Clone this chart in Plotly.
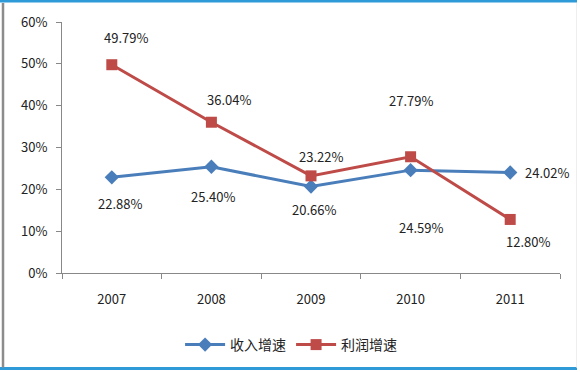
import plotly.graph_objects as go

years = ["2007", "2008", "2009", "2010", "2011"]
revenue = [22.88, 25.40, 20.66, 24.59, 24.02]
profit = [49.79, 36.04, 23.22, 27.79, 12.80]
names = ["收入增速", "利润增速"]
y_ticks = [0, 10, 20, 30, 40, 50, 60]

# label offsets (pixels) for each data label
rev_off = [(8, 26), (2, 30), (3, 23), (10, 57), (37, 0)]
pro_off = [(14, -27), (18, -23), (10, -19), (0, -56), (18, 22)]

BLUE = "#4A7EBB"
RED = "#BE4B48"
FONT = "Noto Sans CJK SC, Open Sans, sans-serif"

fig = go.Figure()
fig.add_trace(go.Scatter(x=years, y=revenue, name=names[0], mode="lines+markers",
                         line=dict(color=BLUE, width=3),
                         marker=dict(symbol="diamond", size=11, color=BLUE)))
fig.add_trace(go.Scatter(x=years, y=profit, name=names[1], mode="lines+markers",
                         line=dict(color=RED, width=3),
                         marker=dict(symbol="square", size=11, color=RED)))

for vals, offs in ((revenue, rev_off), (profit, pro_off)):
    for i, (v, (dx, dy)) in enumerate(zip(vals, offs)):
        fig.add_annotation(x=i, y=v, text=f"{v:.2f}%", showarrow=False,
                           xshift=dx, yshift=-dy,
                           font=dict(size=13, color="#222222", family=FONT))

L, T, W, H = 62, 22, 498, 252
def px(xp): return (xp - L) / W
def py(yp): return (T + H - yp) / H

frame = [
    (px(0), py(1), px(577), py(1), "#2E9AD8", 3),
    (px(0), py(370), px(577), py(370), "#2E9AD8", 3),
    (px(3), py(3), px(3), py(369), "#8C8C8C", 2.5),
    (px(576.5), py(3), px(576.5), py(369), "#EEEEEE", 1),
]
for x0, y0, x1, y1, c, w in frame:
    fig.add_shape(type="line", xref="paper", yref="paper", x0=x0, y0=y0, x1=x1, y1=y1,
                  line=dict(color=c, width=w))

fig.update_layout(
    width=580, height=372,
    margin=dict(l=L, r=580 - L - W, t=T, b=372 - T - H),
    paper_bgcolor="white", plot_bgcolor="white",
    font=dict(family=FONT, size=13, color="#222222"),
    showlegend=True,
    legend=dict(orientation="h", x=0.46, xanchor="center", y=py(345), yanchor="middle",
                font=dict(size=14, family=FONT), itemwidth=40, tracegroupgap=0),
    xaxis=dict(type="category", range=[-0.5, len(years) - 0.5], showline=True,
               linecolor="#888888", linewidth=1,
               ticks="outside", tickson="boundaries", ticklen=5, tickcolor="#888888",
               showgrid=False, ticklabelstandoff=14, tickfont=dict(size=13)),
    yaxis=dict(range=[0, 60], tickvals=y_ticks, ticktext=[f"{t}%" for t in y_ticks],
               showline=True, linecolor="#888888", linewidth=1, ticks="outside",
               ticklen=5, tickcolor="#888888", showgrid=False, zeroline=False,
               ticklabelstandoff=6, tickfont=dict(size=13)),
)

fig.write_html("out.html", config={"displayModeBar": False},
               post_script="document.body.style.margin='0';document.body.style.overflow='hidden';")
